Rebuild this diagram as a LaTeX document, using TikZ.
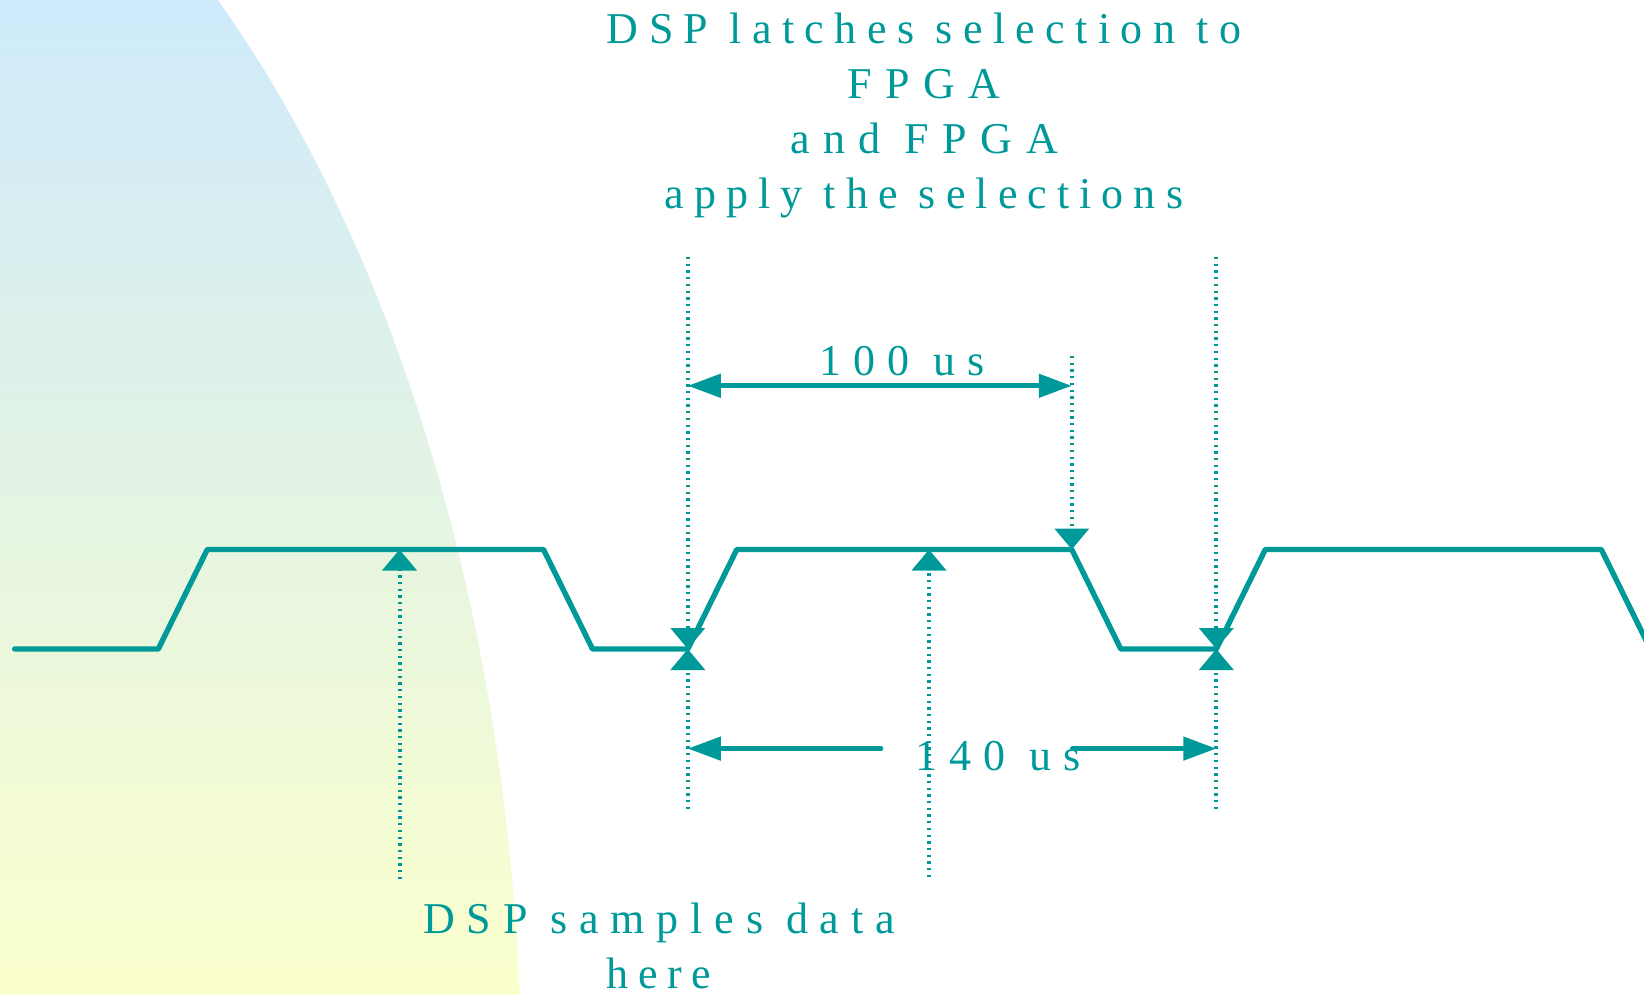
\documentclass[tikz,border=0pt]{standalone}
\usepackage{fontspec}
\setmainfont{Liberation Serif}
\newfontfamily\spacedserif{Liberation Serif}[LetterSpace=22]
\newcommand\trk[2]{{\addfontfeatures{LetterSpace=#1}#2}}
\usetikzlibrary{arrows.meta}
\definecolor{wavecol}{RGB}{0,153,153}
\definecolor{skytop}{RGB}{206,234,251}
\definecolor{skybot}{RGB}{251,255,204}
\begin{document}
\begin{tikzpicture}[x=1pt, y=-1pt,
  wave/.style={draw=wavecol, line width=5.4pt, line join=round, line cap=round},
  dimline/.style={draw=wavecol, line width=4.8pt, line cap=round,
    arrows={-Triangle[length=33pt, width=23pt]}},
  guide/.style={draw=wavecol, line width=4pt, dash pattern=on 2.3pt off 4.4pt,
    arrows={-Triangle[length=21pt, width=34pt]}},
  txt/.style={text=wavecol, font=\spacedserif\fontsize{44}{55}\selectfont,
    inner sep=0pt, align=center}]

\useasboundingbox (0,0) rectangle (1644,995);
\clip (0,0) rectangle (1644,995);

% shaded backdrop on the left
\begin{scope}
  \clip (-300,1100) ellipse [x radius=822, y radius=1416];
  \shade[top color=skytop, bottom color=skybot] (0,0) rectangle (560,995);
\end{scope}

% corner points of the clock waveform
\coordinate (w0)  at (14.7,649);
\coordinate (w1)  at (158.3,649);
\coordinate (w2)  at (207.3,549.5);
\coordinate (w3)  at (543.5,549.5);
\coordinate (w4)  at (592.5,649);
\coordinate (w5)  at (687.8,649);
\coordinate (w6)  at (736.8,549.5);
\coordinate (w7)  at (1071.8,549.5);
\coordinate (w8)  at (1120.8,649);
\coordinate (w9)  at (1216.3,649);
\coordinate (w10) at (1265.3,549.5);
\coordinate (w11) at (1601.3,549.5);
\coordinate (w12) at (1650.3,649);

\draw[wave] (w0) -- (w1) -- (w2) -- (w3) -- (w4) -- (w5) -- (w6) -- (w7)
  -- (w8) -- (w9) -- (w10) -- (w11) -- (w12);

% sampling points on the high level
\coordinate (s1) at (399.5,549.5);
\coordinate (s2) at (929,549.5);
\coordinate (s1b) at (399.5,879);
\coordinate (s2b) at (929,877);
\draw[guide] (s1b) -- (s1);
\draw[guide] (s2b) -- (s2);

% selection latch marks at the rising edges
\coordinate (g1t) at (687.8,257);
\coordinate (g1b) at (687.8,809);
\coordinate (g2t) at (1216.3,257);
\coordinate (g2b) at (1216.3,809);
\draw[guide] (g1t) -- (w5);
\draw[guide] (g1b) -- (w5);
\draw[guide] (g2t) -- (w9);
\draw[guide] (g2b) -- (w9);

% end of the 100 us window
\coordinate (g3t) at (1071.8,356);
\draw[guide] (g3t) -- (w7);

% 100 us dimension
\coordinate (h1a) at (687.8,385.8);
\coordinate (h1b) at (1071.8,385.8);
\draw[dimline, arrows={Triangle[length=33pt, width=23pt]-Triangle[length=33pt, width=23pt]}] (h1a) -- (h1b);
\node[txt, anchor=base] (t100) at (902,375) {\trk{27.7}{100 us}};

% 140 us dimension
\node[txt, anchor=base] (t140) at (998,770) {\trk{27.7}{140 us}};
\coordinate (h2a) at (687.8,748.6);
\coordinate (h2m) at (881,748.6);
\coordinate (h2n) at (1072.5,748.6);
\coordinate (h2b) at (1216.3,748.6);
\draw[dimline] (h2m) -- (h2a);
\draw[dimline] (h2n) -- (h2b);

% captions
\node[txt, anchor=base] (ttop) at (924,208.3)
  {\trk{23.6}{DSP latches selection to}\\\trk{30}{FPGA}\\\trk{30.6}{and FPGA}\\\trk{22.9}{apply the selections}};
\node[txt, anchor=base] (tbot) at (659,988)
  {\trk{26.9}{DSP samples data}\\here};
\end{tikzpicture}
\end{document}
